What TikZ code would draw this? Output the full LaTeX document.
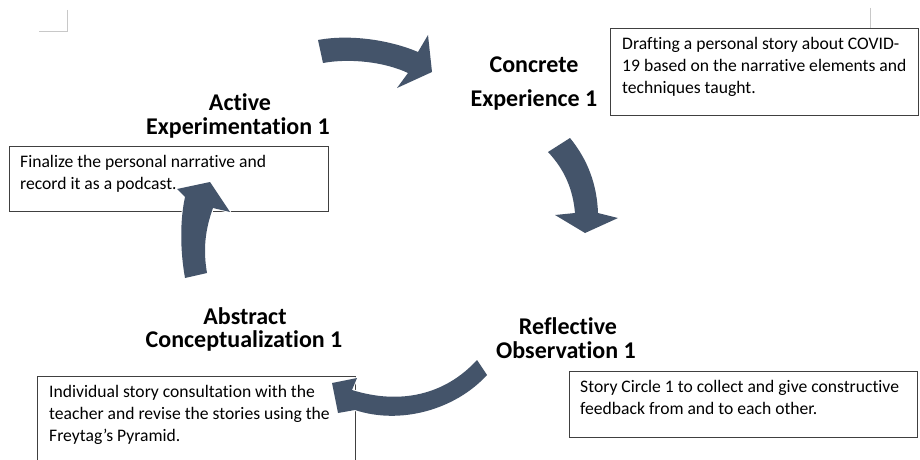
\documentclass[tikz,border=0pt]{standalone}
\usepackage{fontspec}
\setmainfont{Carlito}[Ligatures=NoCommon]
\definecolor{arrowblue}{RGB}{68,84,106}
\definecolor{boxline}{RGB}{64,64,64}
\definecolor{markgray}{RGB}{200,200,200}
\begin{document}
\begin{tikzpicture}[x=1pt,y=-1pt,
  boxrect/.style={draw=boxline,line width=0.8pt},
  boxtext/.style={anchor=north west,inner sep=0pt,align=left,font=\fontsize{17.6}{22}\selectfont},
  titletext/.style={anchor=base,inner sep=0pt,font=\fontsize{24}{28}\selectfont\bfseries},
  cyclearrow/.style={fill=arrowblue,preaction={draw=white,line width=2pt,line join=miter}},
  cornermark/.style={draw=markgray,line width=1pt}]
\clip (0,0) rectangle (920,460);
\fill[white] (0,0) rectangle (920,460);

% corner marks
\draw[cornermark] (67,10) -- (67,32) -- (39,32);
\draw[cornermark] (870,8) -- (870,28);

% boxes
\draw[boxrect] (610,28) rectangle (918,115);
\draw[boxrect] (9,146) rectangle (328,211);
\draw[boxrect] (37,376) rectangle (355,475);
\draw[boxrect] (569,371) rectangle (917,437);

\node[boxtext] (t1) at (622,33.6) {\strut Drafting a personal story about COVID-\\19 based on the narrative elements and\\techniques taught.};
\node[boxtext] (t2) at (20,151.6) {\strut Finalize the personal narrative and\\record it as a podcast.};
\node[boxtext] (t3) at (49,381.6) {\strut Individual story consultation with the\\teacher and revise the stories using the\\Freytag’s Pyramid.};
\node[boxtext] (t4) at (580,376.6) {\strut Story Circle 1 to collect and give constructive\\feedback from and to each other.};

% titles
\node[titletext] (c1) at (534,72.5) {Concrete};
\node[titletext] (c2) at (534,106.5) {Experience 1};
\node[titletext] (a1) at (240,110.5) {Active};
\node[titletext] (a2) at (238,134.5) {Experimentation 1};
\node[titletext] (b1) at (245,324.5) {Abstract};
\node[titletext] (b2) at (244,347.5) {Conceptualization 1};
\node[titletext] (r1) at (568,334.5) {Reflective};
\node[titletext] (r2) at (566,358.5) {Observation 1};

% arrows
\path[cyclearrow] (318,40) .. controls (350,34) and (390,40) .. (418,52)
  -- (428,35) -- (432,72) -- (397,88) -- (408,73)
  .. controls (385,62) and (350,58) .. (323,63) -- cycle;
\path[cyclearrow] (570,138) .. controls (588,160) and (597,185) .. (598,213)
  -- (618,218) -- (585,233) -- (555,215) -- (575,213)
  .. controls (573,190) and (565,170) .. (548,152) -- cycle;
\path[cyclearrow] (477,360) .. controls (445,395) and (400,405) .. (352,390)
  -- (357,378) -- (332,383) -- (338,413) -- (355,410)
  .. controls (400,425) and (455,410) .. (487,375) -- cycle;
\path[cyclearrow] (185,278) .. controls (180,250) and (180,220) .. (185,197)
  -- (177,189) -- (210,182) -- (230,212) -- (213,208)
  .. controls (205,230) and (203,250) .. (207,273) -- cycle;
\end{tikzpicture}
\end{document}
